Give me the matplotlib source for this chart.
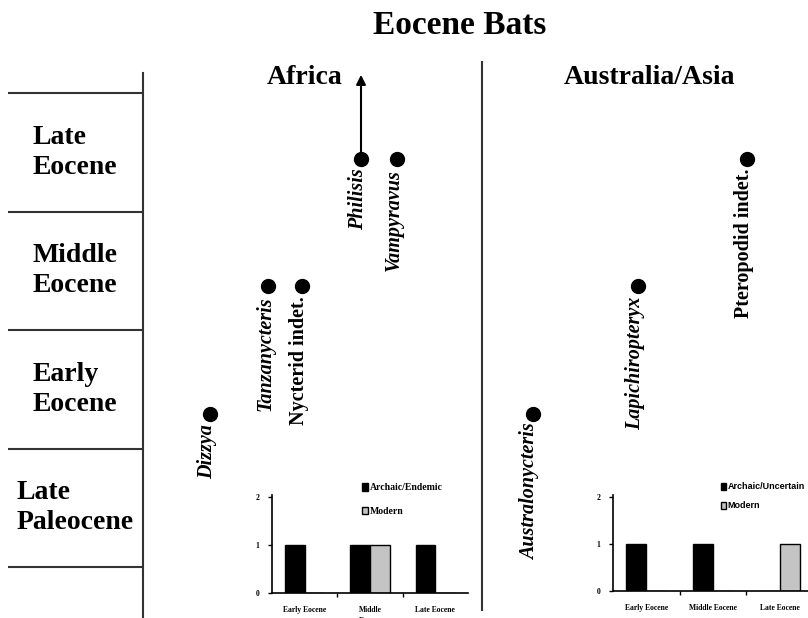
import matplotlib
matplotlib.use('Agg')
import matplotlib.pyplot as plt
from matplotlib.patches import Patch

plt.rcParams['font.family'] = ['Liberation Serif', 'DejaVu Serif']
plt.rcParams['font.weight'] = 'bold'

# stage column (bottom to top)
stages = ['Late\nPaleocene', 'Early\nEocene', 'Middle\nEocene', 'Late\nEocene']

# bat records: name, stage index (1 = Early, 2 = Middle, 3 = Late Eocene), italic genus?
bat_names = ['Dizzya', 'Tanzanycteris', 'Nycterid indet.', 'Philisis', 'Vampyravus',
             'Australonycteris', 'Lapichiropteryx', 'Pteropodid indet.']
bat_stage = [1, 2, 2, 3, 3, 1, 2, 3]
bat_italic = [True, True, False, True, True, True, True, False]
# horizontal slot of each record on the sheet
bat_x = [210, 268, 302, 361, 397, 533, 638, 747]

# inset bar counts
periods = ['Early Eocene', 'Middle Eocene', 'Late Eocene']
africa_periods = ['Early Eocene', 'Middle\nEocene', 'Late Eocene']
africa_archaic = [1, 1, 1]
africa_modern = [0, 1, 0]
asia_archaic = [1, 1, 0]
asia_modern = [0, 0, 1]

W, H = 808, 618
fig = plt.figure(figsize=(W / 100, H / 100), dpi=100)

# main sheet: x in sheet slots, y in stage levels
ax = fig.add_axes([0, 0, 1, 1])
ax.set_xlim(0, W)
ax.set_ylim(-0.6, 4.247)
ax.axis('off')

ax.axvline(143, ymin=0, ymax=(H - 73) / H, color='#333333', lw=1.5)
ax.axvline(482, ymin=(H - 610) / H, ymax=(H - 62) / H, color='#333333', lw=1.5)

for x, s, name, it in zip(bat_x, bat_stage, bat_names, bat_italic):
    ax.plot(x, s, 'o', color='black', ms=10)
    ax.annotate(name, (x, s), xytext=(-2, -7), textcoords='offset points',
                rotation=90, ha='center', va='top', fontsize=14.5,
                fontweight='bold', style='italic' if it else 'normal')

# Philisis range arrow
ax.annotate('', xy=(bat_x[3], 3.66), xytext=(bat_x[3], bat_stage[3]),
            arrowprops=dict(arrowstyle='-|>', color='black', lw=1.5,
                            mutation_scale=14, shrinkA=0, shrinkB=0))

# stage column
axs = fig.add_axes([0, 0, 143 / W, 1])
axs.set_xlim(0, 143)
axs.set_ylim(-0.43, 4.785)
axs.axis('off')
axs.hlines(range(len(stages) + 1), 8, 143, color='#333333', lw=1.5)
for i, st in enumerate(stages):
    axs.text(75, i + 0.5, st, ha='center', va='center', multialignment='left',
             fontsize=20, fontweight='bold', linespacing=1.25)

fig.text(460 / W, 1 - 25 / H, 'Eocene Bats', ha='center', va='center',
         fontsize=24, fontweight='bold')
fig.text(305 / W, 1 - 78 / H, 'Africa', ha='center', va='center',
         fontsize=20, fontweight='bold')
fig.text(650 / W, 1 - 77 / H, 'Australia/Asia', ha='center', va='center',
         fontsize=20, fontweight='bold')


def inset(rect, labels, archaic, modern, leg_labels, leg_anchor, leg_font, leg_size, spacing):
    a = fig.add_axes(rect)
    a.patch.set_alpha(0)
    xs = range(len(labels))
    w = 0.3
    a.bar([x - w / 2 for x in xs], archaic, w, color='black', edgecolor='black')
    a.bar([x + w / 2 for x in xs], modern, w, color='#c4c4c4', edgecolor='black', lw=1)
    a.set_xlim(-0.5, 2.5)
    a.set_ylim(0, 2.05)
    a.set_yticks([0, 1, 2])
    a.set_yticklabels(['0', '1', '2'], fontsize=5.5, fontweight='bold')
    a.set_xticks(list(xs))
    a.set_xticklabels(labels, fontsize=5.5, fontweight='bold', linespacing=1.6)
    a.set_xticks([0.5, 1.5], minor=True)
    a.tick_params(axis='x', which='major', length=0, pad=9)
    a.tick_params(axis='x', which='minor', length=3, width=1)
    a.tick_params(axis='y', length=3, width=1, pad=6)
    for sp in ['top', 'right']:
        a.spines[sp].set_visible(False)
    for sp in ['left', 'bottom']:
        a.spines[sp].set_linewidth(1.2)
    handles = [Patch(facecolor='black', edgecolor='black'),
               Patch(facecolor='#c4c4c4', edgecolor='black')]
    a.legend(handles, leg_labels, loc='upper left', bbox_to_anchor=leg_anchor,
             frameon=False, handlelength=0.6, handleheight=0.8, handletextpad=0.2,
             labelspacing=spacing, borderaxespad=0,
             prop={'family': leg_font, 'size': leg_size, 'weight': 'bold'})
    return a


inset([272 / W, 25 / H, 196 / W, 98 / H], africa_periods, africa_archaic, africa_modern,
      ['Archaic/Endemic', 'Modern'], (0.44, 1.16), 'Liberation Serif', 7, 1.5)
inset([613 / W, 27 / H, 200 / W, 96 / H], periods, asia_archaic, asia_modern,
      ['Archaic/Uncertain', 'Modern'], (0.52, 1.17), 'Liberation Sans', 6.5, 1.1)

fig.savefig('out.png', dpi=100)
